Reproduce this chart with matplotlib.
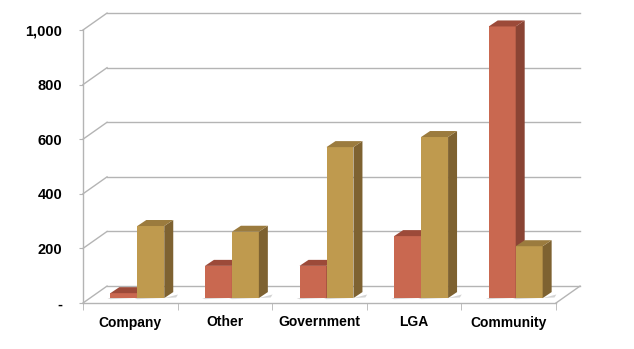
import matplotlib
matplotlib.use("Agg")
import matplotlib.pyplot as plt
from matplotlib.patches import Polygon
from matplotlib.ticker import FixedLocator, FuncFormatter

categories = ["Company", "Other", "Government", "LGA", "Community"]
red_vals = [18, 118, 118, 227, 995]
gold_vals = [264, 243, 553, 590, 190]
y_ticks = [0, 200, 400, 600, 800, 1000]

# colours: front, side, top
red_cols = ("#C96850", "#8A4434", "#9C4A39")
gold_cols = ("#BF9A4E", "#7E6231", "#9B7B3E")
grid_col = "#B4B4B4"

# depth of the "3d" box in data units
full_dx, full_dy = 0.254, 62.0
plane_dx, plane_dy = 0.074, 18.0
bar_dx, bar_dy = 0.095, 22.0
bar_w = 0.285

fig = plt.figure(figsize=(6.34, 3.49), dpi=100)
ax = fig.add_axes([83 / 634, 46 / 349, 473 / 634, 273 / 349])
ax.set_xlim(-0.5, 4.5)
ax.set_ylim(0, 1000)

for s in ["top", "right"]:
    ax.spines[s].set_visible(False)
for s in ["left", "bottom"]:
    ax.spines[s].set_color(grid_col)
    ax.spines[s].set_linewidth(1)

# walls: back gridlines + left wall slants
for v in y_ticks:
    ax.plot([-0.5 + full_dx, 4.5 + full_dx], [v + full_dy, v + full_dy],
            color=grid_col, lw=1, clip_on=False, zorder=1)
    ax.plot([-0.5, -0.5 + full_dx], [v, v + full_dy],
            color=grid_col, lw=1, clip_on=False, zorder=1)
# floor right edge
ax.plot([4.5, 4.5 + full_dx], [0, full_dy], color=grid_col, lw=1, clip_on=False, zorder=1)


def bar3d(x0, h, cols):
    xl = x0 + plane_dx
    xr = xl + bar_w
    b = plane_dy
    t = plane_dy + h
    # shadow on the floor
    ax.add_patch(Polygon([(xr, b), (xr + bar_dx + 0.05, b + bar_dy * 0.6),
                          (xr + bar_dx + 0.03, b + bar_dy * 0.1), (xl, b - 4), (xl - 0.03, b)],
                         closed=True, fc="#555555", ec="none", alpha=0.25,
                         clip_on=False, zorder=2))
    ax.add_patch(Polygon([(xl, b), (xr, b), (xr, t), (xl, t)], closed=True,
                         fc=cols[0], ec="none", clip_on=False, zorder=3))
    ax.add_patch(Polygon([(xr, b), (xr + bar_dx, b + bar_dy), (xr + bar_dx, t + bar_dy), (xr, t)],
                         closed=True, fc=cols[1], ec="none", clip_on=False, zorder=3))
    ax.add_patch(Polygon([(xl, t), (xr, t), (xr + bar_dx, t + bar_dy), (xl + bar_dx, t + bar_dy)],
                         closed=True, fc=cols[2], ec="none", clip_on=False, zorder=3))


for i in range(len(categories)):
    bar3d(i - bar_w, red_vals[i], red_cols)
    bar3d(i, gold_vals[i], gold_cols)

font = dict(family="Liberation Sans", weight="bold", size=10.5)

ax.yaxis.set_major_locator(FixedLocator(y_ticks))
ax.yaxis.set_major_formatter(FuncFormatter(lambda v, p: "-" if v == 0 else f"{int(v):,}"))
ax.tick_params(axis="y", length=3, color=grid_col, pad=12)
for lab in ax.get_yticklabels():
    lab.set_fontproperties(font)

ax.set_xticks(range(len(categories)))
ax.set_xticklabels(categories)
ax.set_xticks([i - 0.5 for i in range(len(categories) + 1)], minor=True)
ax.tick_params(axis="x", which="major", length=0, pad=9)
ax.tick_params(axis="x", which="minor", length=5, color=grid_col)
for lab in ax.get_xticklabels():
    lab.set_fontproperties(font)
    lab.set_size(10)

fig.savefig("out.png", dpi=100)
